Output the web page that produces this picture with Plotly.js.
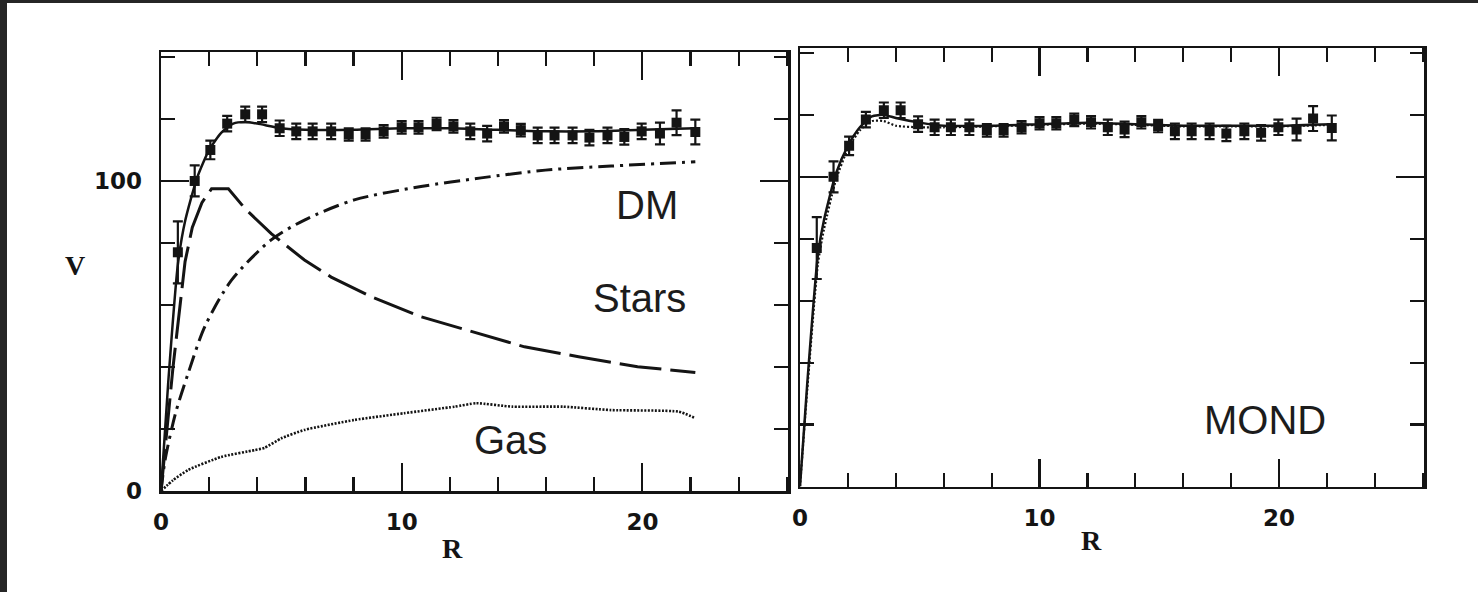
<!DOCTYPE html>
<html>
<head>
<meta charset="utf-8">
<script src="https://cdn.plot.ly/plotly-3.0.1.min.js"></script>
<style>html,body{margin:0;padding:0;background:#fff;}#chart{width:1478px;height:592px;}</style>
</head>
<body>
<div id="chart"></div>
<script>
// Observed rotation curve (same data in both panels)
const obsR = [0.7, 1.4, 2.05, 2.75, 3.5, 4.2, 4.93, 5.62, 6.3, 7.07, 7.8, 8.5, 9.25, 10.0, 10.7, 11.45, 12.15, 12.85, 13.55, 14.25, 14.95, 15.65, 16.35, 17.1, 17.8, 18.55, 19.25, 19.97, 20.73, 21.42, 22.2];
const obsV = [77, 100, 110, 118.5, 121.5, 121.5, 117, 116, 116, 116, 115, 115, 116, 117.3, 117.3, 118.4, 117.6, 116, 115.3, 117.6, 116.4, 114.7, 114.7, 114.7, 114, 114.7, 114.2, 116, 115.3, 118.8, 115.8];
const obsErr = [10, 5, 3, 2.5, 2.5, 2.5, 2.5, 2.5, 2.5, 2.5, 2, 2, 2, 2, 2, 2, 2, 2.5, 2.5, 2, 2, 2.5, 2.5, 2.5, 2.5, 2.5, 2.5, 2.5, 3.5, 4, 4];

// Left panel model curves
const totR = [0, 0.3, 0.7, 1.0, 1.5, 2.0, 2.5, 3.0, 3.5, 4.0, 5.0, 6.0, 8.0, 10.0, 12.0, 14.0, 16.0, 18.0, 20.0, 22.2];
const totV = [0, 35, 73, 87, 101, 110, 115.5, 118.5, 119, 118.5, 117, 116.5, 116.5, 117, 117, 116.5, 116, 116, 116.5, 117];

const starR = [0, 0.5, 1.0, 1.3, 1.7, 2.1, 2.8, 3.5, 4.58, 5.96, 7.07, 8.72, 10.8, 13.3, 15.1, 17.35, 19.8, 22.2];
const starV = [0, 40, 74, 85, 93, 97.5, 97.5, 91, 83, 74.5, 69, 62.7, 56.2, 50.5, 46.5, 43.3, 40.1, 38.2];

const dmR = [0, 0.17, 0.6, 1.13, 1.82, 2.93, 4.58, 5.96, 8.03, 10.8, 13.3, 15.97, 18.7, 22.2];
const dmV = [0, 10, 25, 38, 53, 68, 81, 87.4, 93.9, 98.2, 101, 103.5, 104.8, 106.2];

const gasR = [0, 0.5, 1.13, 2.5, 3.9, 4.3, 5.0, 5.96, 8.03, 10.1, 12.2, 13.1, 14.6, 16.7, 18.7, 21.5, 22.2];
const gasV = [0, 3.5, 6.8, 11, 13.2, 13.9, 17, 19.7, 22.9, 25.1, 27.2, 28.3, 27.2, 27.2, 26.1, 25.6, 23.5];

// Right panel MOND curves
const mondR = [0, 0.3, 0.75, 1.0, 1.5, 2.0, 2.5, 3.0, 3.5, 4.0, 5.0, 6.0, 8.0, 10.0, 12.0, 14.0, 16.0, 18.0, 20.0, 22.2];
const mondV = [0, 33, 75, 86, 101, 110, 116, 119.5, 120, 119, 117.5, 116.5, 116.5, 117, 117.5, 117, 116.5, 116.5, 116.5, 117];
const mond2V = [0, 31, 72, 83, 99, 109, 115, 118, 118, 116.5, 116, 116, 116.3, 116.8, 117.2, 116.8, 116.3, 116.3, 116.3, 116.8];

const xTickVals = [0, 10, 20];
const xTickText = ['0', '10', '20'];
const yTickVals = [0, 100];
const yTickText = ['0', '100'];

const INK = '#141414';

const traces = [
  {x: gasR, y: gasV, mode: 'lines', line: {color: INK, width: 2.6, dash: '2px,1.5px', shape: 'spline', smoothing: 0.5}, xaxis: 'x', yaxis: 'y', hoverinfo: 'skip'},
  {x: dmR, y: dmV, mode: 'lines', line: {color: INK, width: 3, dash: '16px,6px,3px,6px', shape: 'spline', smoothing: 0.8}, xaxis: 'x', yaxis: 'y', hoverinfo: 'skip'},
  {x: starR, y: starV, mode: 'lines', line: {color: INK, width: 3, dash: '42px,9px'}, xaxis: 'x', yaxis: 'y', hoverinfo: 'skip'},
  {x: totR, y: totV, mode: 'lines', line: {color: INK, width: 2.5, shape: 'spline', smoothing: 0.6}, xaxis: 'x', yaxis: 'y', hoverinfo: 'skip'},
  {x: obsR, y: obsV, mode: 'markers', marker: {symbol: 'square', size: 10, color: INK},
   error_y: {type: 'data', array: obsErr, visible: true, thickness: 2.2, width: 5, color: INK}, xaxis: 'x', yaxis: 'y'},
  {x: mondR, y: mond2V, mode: 'lines', line: {color: INK, width: 2.2, dash: '2px,2px', shape: 'spline', smoothing: 0.6}, xaxis: 'x2', yaxis: 'y2', hoverinfo: 'skip'},
  {x: mondR, y: mondV, mode: 'lines', line: {color: INK, width: 2.5, shape: 'spline', smoothing: 0.6}, xaxis: 'x2', yaxis: 'y2', hoverinfo: 'skip'},
  {x: obsR, y: obsV, mode: 'markers', marker: {symbol: 'square', size: 10, color: INK},
   error_y: {type: 'data', array: obsErr, visible: true, thickness: 2.2, width: 5, color: INK}, xaxis: 'x2', yaxis: 'y2'}
];

const W = 1478, H = 592;
const tickFont = {family: 'DejaVu Sans', size: 23, color: INK, weight: 'bold'};

function xAxis(l, r, anchor) {
  return {
    domain: [l / W, r / W], range: [0, 26.05], anchor: anchor,
    showgrid: false, zeroline: false, showline: true, linewidth: 2.5, linecolor: INK, mirror: 'ticks',
    ticks: 'inside', ticklen: 28, tickwidth: 2.2, tickcolor: INK,
    tickmode: 'array', tickvals: xTickVals, ticktext: xTickText, tickfont: tickFont, ticklabelstandoff: 9,
    minor: {dtick: 2, tick0: 0, ticks: 'inside', ticklen: 14, tickwidth: 2.2, tickcolor: INK, showgrid: false}
  };
}
function yAxis(b, t, anchor, labels) {
  return {
    domain: [1 - b / H, 1 - t / H], range: [0, 141.6], anchor: anchor,
    showgrid: false, zeroline: false, showline: true, linewidth: 2.5, linecolor: INK, mirror: 'ticks',
    ticks: 'inside', ticklen: 28, tickwidth: 2.2, tickcolor: INK,
    tickmode: 'array', tickvals: yTickVals, ticktext: yTickText, tickfont: tickFont,
    showticklabels: labels, ticklabelstandoff: 12,
    minor: {dtick: 20, tick0: 0, ticks: 'inside', ticklen: 14, tickwidth: 2.2, tickcolor: INK, showgrid: false}
  };
}

const labelFont = {family: 'Liberation Sans', size: 40, color: '#1c1c1c'};
const axTitleFont = {family: 'Liberation Serif', size: 28, color: INK, weight: 'bold'};
function paperText(px, py, t) {
  return {xref: 'paper', yref: 'paper', x: px / W, y: 1 - py / H, xanchor: 'center', yanchor: 'middle', text: t, showarrow: false, font: axTitleFont};
}

const layout = {
  width: W, height: H, autosize: false,
  margin: {l: 0, r: 0, t: 0, b: 0, pad: 0},
  paper_bgcolor: '#ffffff', plot_bgcolor: '#ffffff',
  showlegend: false,
  xaxis: xAxis(161, 788, 'y'),
  yaxis: yAxis(491, 52, 'x', true),
  xaxis2: xAxis(800, 1424, 'y2'),
  yaxis2: yAxis(486.5, 48, 'x2', false),
  annotations: [
    {xref: 'x', yref: 'y', x: 20.2, y: 92.3, xanchor: 'center', yanchor: 'middle', text: 'DM', showarrow: false, font: labelFont},
    {xref: 'x', yref: 'y', x: 19.9, y: 62.3, xanchor: 'center', yanchor: 'middle', text: 'Stars', showarrow: false, font: labelFont},
    {xref: 'x', yref: 'y', x: 14.5, y: 16.5, xanchor: 'center', yanchor: 'middle', text: 'Gas', showarrow: false, font: labelFont},
    {xref: 'x2', yref: 'y2', x: 19.4, y: 21.6, xanchor: 'center', yanchor: 'middle', text: 'MOND', showarrow: false, font: labelFont},
    paperText(452, 548, 'R'),
    paperText(1091, 540, 'R'),
    paperText(75, 265, 'V')
  ],
  shapes: [
    {type: 'rect', xref: 'paper', yref: 'paper', x0: 0, x1: 7 / W, y0: 0, y1: 1, fillcolor: '#262626', line: {width: 0}, layer: 'below'},
    {type: 'rect', xref: 'paper', yref: 'paper', x0: 0, x1: 1, y0: 1 - 3 / H, y1: 1, fillcolor: '#262626', line: {width: 0}, layer: 'below'}
  ]
};

Plotly.newPlot('chart', traces, layout, {staticPlot: true, displayModeBar: false});
</script>
</body>
</html>
